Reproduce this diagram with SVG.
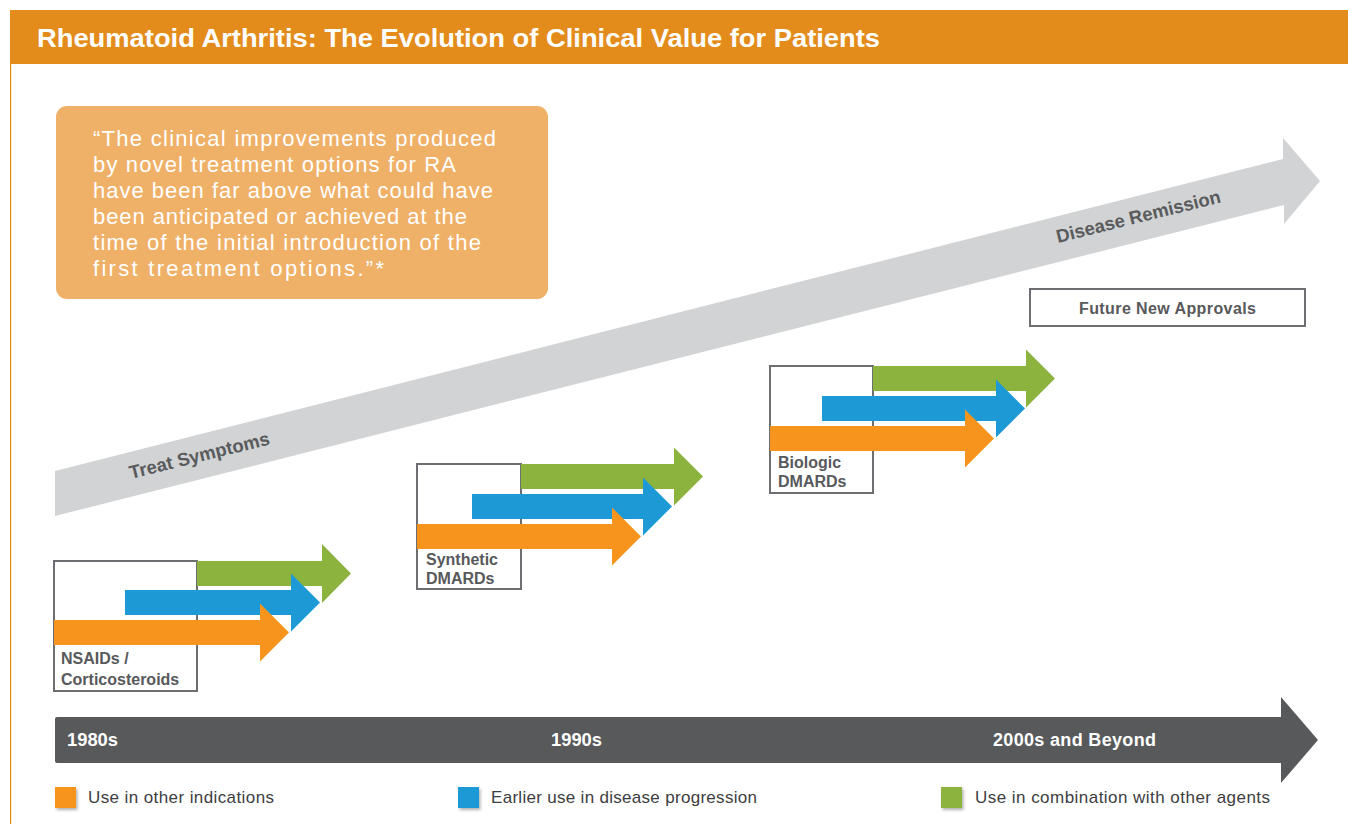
<svg xmlns="http://www.w3.org/2000/svg" width="1348" height="824" viewBox="0 0 1348 824">
<defs>
<style>
.bg{fill:#ffffff}
.hdr{fill:#e38c1b}
.title{font-family:"Liberation Sans",Arial,sans-serif;font-weight:bold;font-size:25px;fill:#ffffff}
.quote{fill:#efb068}
.qt{font-family:"Liberation Sans",Arial,sans-serif;font-size:22px;fill:#ffffff}
.prog{fill:#d1d3d4}
.progt{font-family:"Liberation Sans",Arial,sans-serif;font-weight:bold;font-size:18.5px;fill:#5a5b5d}
.box{fill:#ffffff;stroke:#6d6e71;stroke-width:2}
.lbl{font-family:"Liberation Sans",Arial,sans-serif;font-weight:bold;font-size:16px;fill:#58595b}
.g{fill:#8cb33e}
.b{fill:#1d9ad6}
.o{fill:#f7941d}
.tl{fill:#58595b}
.tlt{font-family:"Liberation Sans",Arial,sans-serif;font-weight:bold;font-size:18px;fill:#ffffff}
.lg{font-family:"Liberation Sans",Arial,sans-serif;font-size:17px;fill:#3d3d3f}
</style>
<filter id="sh" x="-30%" y="-30%" width="180%" height="180%">
<feDropShadow dx="1.5" dy="2" stdDeviation="1.5" flood-color="#000000" flood-opacity="0.3"/>
</filter>
</defs>
<rect class="bg" x="0" y="0" width="1348" height="824"/>

<g id="header">
<rect class="hdr" x="10" y="10" width="1338" height="54"/>
<line x1="10.6" y1="64" x2="10.6" y2="824" stroke="#e38c1b" stroke-width="1.2"/>
<text class="title" x="37" y="47" textLength="843" lengthAdjust="spacingAndGlyphs">Rheumatoid Arthritis: The Evolution of Clinical Value for Patients</text>
</g>

<g id="connectors">
<g id="progress-arrow">
<polygon class="prog" points="55,471 1283,159 1283,138 1320,181 1284,224 1284,205 55,516"/>
<text class="progt" x="131" y="479" transform="rotate(-14 131 479)">Treat Symptoms</text>
<text class="progt" x="1058" y="243" transform="rotate(-14 1058 243)">Disease Remission</text>
</g>
<g id="timeline">
<path class="tl" d="M57,717 L1281,717 L1281,697 L1318,740 L1281,783 L1281,763 L57,763 Q55,763 55,761 L55,719 Q55,717 57,717 Z"/>
<text class="tlt" x="67" y="746" textLength="51" lengthAdjust="spacingAndGlyphs">1980s</text>
<text class="tlt" x="551" y="746" textLength="51" lengthAdjust="spacingAndGlyphs">1990s</text>
<text class="tlt" x="993" y="746" textLength="163" lengthAdjust="spacing">2000s and Beyond</text>
</g>
</g>

<g id="quote-box">
<rect class="quote" x="56" y="106" width="492" height="193" rx="11"/>
<text class="qt" x="93" y="146" textLength="403" lengthAdjust="spacing">“The clinical improvements produced</text>
<text class="qt" x="93" y="172" textLength="363" lengthAdjust="spacing">by novel treatment options for RA</text>
<text class="qt" x="93" y="198" textLength="400" lengthAdjust="spacing">have been far above what could have</text>
<text class="qt" x="93" y="224" textLength="374" lengthAdjust="spacing">been anticipated or achieved at the</text>
<text class="qt" x="93" y="250" textLength="388" lengthAdjust="spacing">time of the initial introduction of the</text>
<text class="qt" x="93" y="276" textLength="291" lengthAdjust="spacing">first treatment options.”*</text>
</g>

<g id="nsaids">
<rect class="box" x="54" y="561" width="143" height="130"/>
<polygon class="g" points="197,561 322,561 322,544 351,573.5 322,603 322,586 197,586"/>
<polygon class="b" points="125,590 291,590 291,573.5 320,602.5 291,631.5 291,615 125,615"/>
<polygon class="o" points="54,620 260,620 260,603.5 289,632.5 260,661.5 260,645 54,645"/>
<text class="lbl" x="61" y="664">NSAIDs /</text>
<text class="lbl" x="61" y="685">Corticosteroids</text>
</g>

<g id="synthetic-dmards">
<rect class="box" x="417" y="464" width="104" height="125"/>
<polygon class="g" points="521,464 674,464 674,447.5 703,476.5 674,505.5 674,489 521,489"/>
<polygon class="b" points="472,494 643,494 643,477.5 672,506.5 643,535.5 643,519 472,519"/>
<polygon class="o" points="417,524 612,524 612,507.5 641,536.5 612,565.5 612,549 417,549"/>
<text class="lbl" x="426" y="565">Synthetic</text>
<text class="lbl" x="426" y="584">DMARDs</text>
</g>

<g id="biologic-dmards">
<rect class="box" x="770" y="366" width="103" height="127"/>
<polygon class="g" points="873,366 1026,366 1026,349.5 1055,378.5 1026,407.5 1026,391 873,391"/>
<polygon class="b" points="822,396 996,396 996,379.5 1025,408.5 996,437.5 996,421 822,421"/>
<polygon class="o" points="770,426 965,426 965,409.5 994,438.5 965,467.5 965,451 770,451"/>
<text class="lbl" x="778" y="468">Biologic</text>
<text class="lbl" x="778" y="487">DMARDs</text>
</g>

<g id="future-approvals">
<rect class="box" x="1030" y="289" width="275" height="37"/>
<text class="lbl" x="1167.5" y="314" text-anchor="middle" textLength="177" lengthAdjust="spacing">Future New Approvals</text>
</g>

<g id="legend">
<rect class="o" x="55" y="787" width="21" height="21" filter="url(#sh)"/>
<text class="lg" x="88" y="803" textLength="186" lengthAdjust="spacing">Use in other indications</text>
<rect class="b" x="458" y="787" width="21" height="21" filter="url(#sh)"/>
<text class="lg" x="491" y="803" textLength="266" lengthAdjust="spacing">Earlier use in disease progression</text>
<rect class="g" x="941" y="787" width="21" height="21" filter="url(#sh)"/>
<text class="lg" x="975" y="803" textLength="295" lengthAdjust="spacing">Use in combination with other agents</text>
</g>
</svg>
